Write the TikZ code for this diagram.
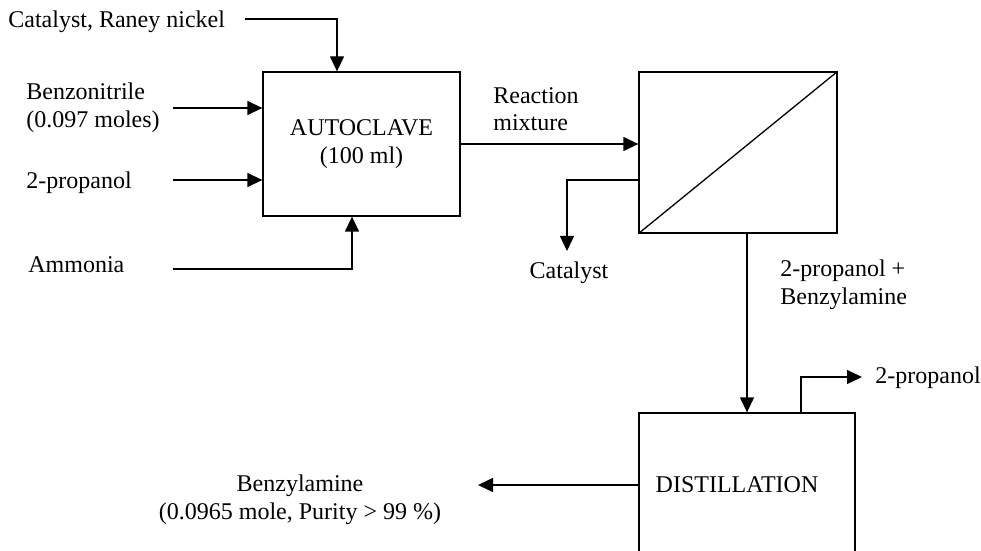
\documentclass[tikz,border=0pt]{standalone}
\usepackage{fontspec}
\setmainfont{Liberation Serif}
\usetikzlibrary{arrows.meta}
\tikzset{flow/.style={draw, line width=0.65pt, -{Triangle[length=7.5pt,width=7pt]}}}
\tikzset{unit/.style={draw, line width=0.65pt, inner sep=0pt, align=center, font=\fontsize{12}{13.8}\selectfont}}
\tikzset{lbl/.style={inner sep=0pt, align=left, font=\fontsize{12}{13.8}\selectfont}}

\begin{document}
\begin{tikzpicture}[x=0.5pt, y=-0.5pt]       % 1 unit = 1 px of the sheet
    \useasboundingbox (0,0) rectangle (981,551);

    \node[unit, minimum width=98.5pt, minimum height=72pt] at (361.5,144) (auto) {AUTOCLAVE\\(100 ml)};
    \node[unit, minimum width=99pt, minimum height=80.5pt] at (738,152.5) (filter) {};
    \node[unit, minimum width=108pt, minimum height=72pt] at (747,485) (dist) {DISTILLATION\hspace*{10pt}};
    \draw[line width=0.65pt] (filter.south west) -- (filter.north east);

    \node[lbl, anchor=west] at (8,22) (catlbl) {Catalyst, Raney nickel};
    \node[lbl, anchor=west] at (26,108) (benzlbl) {Benzonitrile\\(0.097 moles)};
    \node[lbl, anchor=west] at (26,183) (proplbl) {2-propanol};
    \node[lbl, anchor=west] at (28,265) (nh3lbl) {Ammonia};
    \node[lbl, anchor=west] at (493,109) (mixlbl) {Reaction\\mixture};
    \node[lbl] at (569,273) (catoutlbl) {Catalyst};
    \node[lbl, anchor=west] at (780,285) (filtlbl) {2-propanol +\\Benzylamine};
    \node[lbl, anchor=west] at (875,378) (propoutlbl) {2-propanol};
    \node[lbl, align=center] at (300,500) (aminelbl) {Benzylamine\\(0.0965 mole, Purity > 99 \%)};

    \coordinate (catsrc) at (245,19);
    \coordinate (benzsrc) at (173,108);
    \coordinate (propsrc) at (173,180);
    \coordinate (nh3src) at (173,269);
    \coordinate (catout) at (567,251);
    \coordinate (propout) at (862,377);
    \coordinate (amineout) at (478,485);

    % feeds
    \draw[flow] (catsrc) -| ([xshift=-12.25pt]auto.north);
    \draw[flow] (benzsrc) -- (benzsrc -| auto.west);
    \draw[flow] (propsrc) -- (propsrc -| auto.west);
    \draw[flow] (nh3src) -| ([xshift=-4.75pt]auto.south);

    % products
    \draw[flow] (auto.east) -- (auto.east -| filter.west);
    \draw[flow] ([yshift=-13.75pt]filter.west) -| (catout);
    \draw[flow] (filter.south -| dist.north) -- (dist.north);
    \draw[flow] ([xshift=27pt]dist.north) |- (propout);
    \draw[flow] (dist.west) -- (amineout);
\end{tikzpicture}
\end{document}
